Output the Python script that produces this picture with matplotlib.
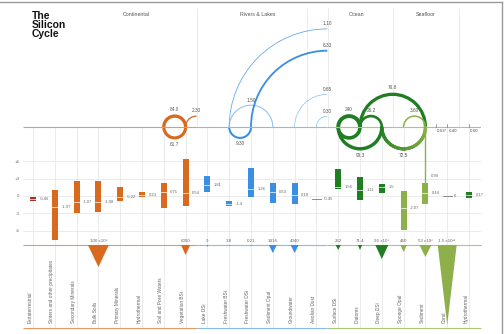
import numpy as np
import matplotlib
matplotlib.use("Agg")
import matplotlib.pyplot as plt
from matplotlib.patches import Arc, Polygon, Rectangle
from matplotlib.collections import LineCollection
from matplotlib.lines import Line2D
from matplotlib.colors import to_rgb

plt.rcParams['font.family'] = ['Liberation Sans', 'DejaVu Sans']

# ---------------- data ----------------
categories = ["Extraterrestrial", "Sinters and other precipitates", "Secondary Minerals",
              "Bulk Soils", "Primary Minerals", "Hydrothermal", "Soil and Pore Waters",
              "Vegetation BSi", "Lake DSi", "Freshwater BSi", "Freshwater DSi",
              "Sediment Opal", "Groundwater", "Aeolian Dust", "Surface DSi", "Diatoms",
              "Deep DSi", "Sponge Opal", "Sediment", "Coral", "Hydrothermal"]
category_group = ["ext", "cont", "cont", "cont", "cont", "cont", "cont", "cont",
                  "riv", "riv", "riv", "riv", "riv", "riv",
                  "ocean", "ocean", "ocean", "sea", "sea", "sea", "ocean"]

# delta-30Si ranges (per mil)
d30_low = [-0.80, -7.5, -3.0, -2.7, -0.85, -0.12, -2.0, -1.66, 0.63, -1.77, -0.10,
           -1.26, -1.43, -0.45, 1.15, -0.69, 0.57, -5.8, -1.43, 0.0, -0.29]
d30_high = [-0.12, 1.0, 2.6, 2.6, 1.5, 0.74, 2.3, 6.3, 3.43, -0.86, 4.85,
            2.28, 2.17, -0.45, 4.57, 3.2, 2.06, 0.9, 2.28, 0.0, 0.74]
d30_median = [-0.46, -1.97, -1.07, -1.08, -0.22, 0.23, 0.75, 0.54, 1.81, -1.4, 1.26,
              0.63, 0.19, -0.45, 1.56, 1.11, 1.5, -2.07, 0.44, 0.0, 0.17]
d30_labels = ["-0.46", "-1.97", "-1.07", "-1.08", "-0.22", "0.23", "0.75", "0.54", "1.81",
              "-1.4", "1.26", "0.63", "0.19", "-0.45", "1.56", "1.11", "1.5", "-2.07",
              "0.44", "0", "0.17"]
yticks_vals = [6, 3, 0, -3, -6]
yticks_text = ["+6", "+3", "0", "-3", "-6"]

# reservoirs (triangles)
reservoir_idx = [3, 7, 8, 9, 10, 11, 12, 14, 15, 16, 17, 18, 19]
reservoir_labels = ["100 x10\u2076", "6050", "9", "3.8", "0.21", "1416", "4040", "262",
                    "71.4", "96 x10\u00b3", "460", "53 x10\u00b3", "1.5 x10\u00b2\u00b9"]
reservoir_width = [0.96, 0.42, 0.07, 0.05, 0.05, 0.37, 0.37, 0.24, 0.19, 0.60, 0.30, 0.55, 0.87]
reservoir_depth = [22, 10, 2, 1.5, 1.5, 8, 8, 5, 5, 14, 7, 12, 80]

# fluxes (Tmol/yr); dst 7.5 / 13.5 = region boundaries
flux_src = [6, 7, 7, 10, 9, 9, 10, 12, 13, 14, 15, 15, 14, 15, 16, 17]
flux_dst = [7, 6, 7.5, 9, 11, 13.5, 13.5, 13.5, 13.5, 15, 14, 16, 16, 18, 18, 18]
flux_value = [84.0, 61.7, 2.30, 9.30, 1.50, 1.10, 6.33, 0.65, 0.30, 240, 140, 26.2, 99.3,
              76.8, 72.5, 3.60]
flux_labels = ["84.0", "61.7", "2.30", "9.30", "1.50", "1.10", "6.33", "0.65", "0.30",
               "240", "", "26.2", "99.3", "76.8", "72.5", "3.60"]
flux_side = ["up", "down", "edge", "down", "up", "edge", "edge", "edge", "edge",
             "up", "down", "up", "down", "up", "down", "up"]

small_flux_pos = [18.5, 19, 20]
small_flux_labels = ["0.63*", "0.40", "0.60"]
burial_idx = 18
burial_label = "0.90"

regions = ["Continental", "Rivers & Lakes", "Ocean", "Seafloor"]

# ---------------- styles ----------------
ORANGE = "#d8691f"
RED = "#a8322b"
BLUE = "#3b8fe3"
LBLUE = "#8cc0f0"
DGREEN = "#1f7d22"
OLIVE = "#8db04a"
GRID = "#e8e8e8"
TXT = "#666666"
group_color = {"ext": RED, "cont": ORANGE, "riv": BLUE, "ocean": DGREEN, "sea": OLIVE}
flux_colors = [ORANGE, ORANGE, ORANGE, BLUE, LBLUE, "#6aaaf0", BLUE, LBLUE, LBLUE,
               DGREEN, DGREEN, DGREEN, DGREEN, DGREEN, "grad", OLIVE]

W, H = 504, 334
PXU = 21.8  # px per category unit


def rect(l, t, r, b):
    return [l / W, 1 - b / H, (r - l) / W, (b - t) / H]


XL = (-0.459, 20.55)
seg_bounds = [(XL[0], 7.5, "#e39a66"), (7.5, 13.5, "#86bcef"), (13.5, XL[1], "#a9c977")]

fig = plt.figure(figsize=(W / 100, H / 100), dpi=100)
fig.patch.set_facecolor("white")

# ---------------- box panel ----------------
axb = fig.add_axes(rect(23, 127, 481, 245))
axb.set_xlim(*XL)
axb.set_ylim(-(245 - 196) / 5.833, (196 - 127) / 5.833)
axb.patch.set_alpha(0)
for s in axb.spines.values():
    s.set_visible(False)
axb.set_xticks(range(len(categories)))
axb.set_xticklabels([])
axb.set_yticks(yticks_vals)
axb.set_yticklabels(yticks_text, fontsize=3.2, color=TXT)
axb.tick_params(length=0, pad=2.5)
axb.grid(True, color=GRID, lw=0.6)
axb.set_axisbelow(True)
bw = 0.28
for i, (lo, hi, med, lab) in enumerate(zip(d30_low, d30_high, d30_median, d30_labels)):
    c = group_color[category_group[i]]
    if hi - lo < 0.01:
        axb.plot([i - 0.2, i + 0.2], [med, med], color="#777777", lw=0.6)
        axb.text(i + 0.32, med, lab, fontsize=3, color=TXT, va="center", ha="left")
        continue
    axb.add_patch(Rectangle((i - bw / 2, lo), bw, hi - lo, facecolor=c, edgecolor="none"))
    axb.plot([i - bw / 2, i + bw / 2], [med, med], color="white", lw=0.5)
    axb.text(i + 0.3, med, lab, fontsize=3, color=TXT, va="center", ha="left")
# burial line from sediment box up to baseline
axb.plot([burial_idx, burial_idx], [d30_high[burial_idx], axb.get_ylim()[1]], color=OLIVE, lw=1.0)
axb.text(burial_idx + 0.25, 3.4, burial_label, fontsize=3, color=TXT, va="center", ha="left")

# ---------------- triangle panel ----------------
axt = fig.add_axes(rect(23, 245, 481, 328))
axt.set_xlim(*XL)
axt.set_ylim(83, 0)
axt.patch.set_alpha(0)
for s in axt.spines.values():
    s.set_visible(False)
axt.set_xticks(range(len(categories)))
axt.set_xticklabels([])
axt.set_yticks([])
axt.tick_params(length=0)
axt.grid(True, axis="x", color=GRID, lw=0.6)
axt.set_axisbelow(True)
for a, b, c in seg_bounds:
    axt.plot([a, b], [0, 0], color=c, lw=0.8, clip_on=False, solid_capstyle="butt")
    axt.plot([a, b], [82.6, 82.6], color=c, lw=0.8, clip_on=False, solid_capstyle="butt")
for i, lab, w, d in zip(reservoir_idx, reservoir_labels, reservoir_width, reservoir_depth):
    c = group_color[category_group[i]]
    axt.add_patch(Polygon([(i - w / 2, 0), (i + w / 2, 0), (i, d)], closed=True,
                          facecolor=c, edgecolor="none", zorder=3))
    axt.text(i, -2.5, lab, fontsize=3.2, color=TXT, ha="center", va="bottom", clip_on=False)
for i, name in enumerate(categories):
    axt.text(i - 0.14, 78, name, rotation=90, fontsize=3.4, color=TXT,
             ha="center", va="bottom")

# ---------------- flux (arc) panel ----------------
axa = fig.add_axes(rect(23, 0, 481, 170))
axa.set_xlim(*XL)
axa.set_ylim(-(170 - 127) / PXU, 127 / PXU)
axa.patch.set_alpha(0)
axa.axis("off")
for a, b, c in seg_bounds:
    axa.plot([a, b], [0, 0], color=c, lw=0.8, solid_capstyle="butt")
# header separators
for xb in [7.52, 12.56, 13.52, 16.5, 19.55]:
    axa.plot([xb, xb], [0, (127 - 8) / PXU], color=GRID, lw=0.6, zorder=0)
for name, xr in zip(regions, [4.75, 10.3, 14.85, 18.0]):
    axa.text(xr, (127 - 15) / PXU, name, fontsize=3.8, color="#555555", ha="center", va="center")


def lw_px(v):
    return max(0.7, 0.8 + 1.3 * np.log10(v))


for s, d, v, lab, side, col in zip(flux_src, flux_dst, flux_value, flux_labels, flux_side, flux_colors):
    lwp = lw_px(v)
    lw = lwp * 0.72
    off = 0.1 + lwp / 2 / PXU
    if side == "edge":
        r = d - s
        axa.add_patch(Arc((d, 0), 2 * r, 2 * r, theta1=90, theta2=180, color=col, lw=lw))
        lx, ly, va = d, r + off, "bottom"
    else:
        cx = (s + d) / 2
        r = abs(d - s) / 2
        if col == "grad":
            th = np.linspace(np.pi, 2 * np.pi, 80)
            xs = cx + r * np.cos(th)
            ys = r * np.sin(th)
            pts = np.column_stack([xs, ys]).reshape(-1, 1, 2)
            segs = np.concatenate([pts[:-1], pts[1:]], axis=1)
            c0, c1 = np.array(to_rgb(DGREEN)), np.array(to_rgb(OLIVE))
            t = np.linspace(0, 1, len(segs))[:, None]
            lc = LineCollection(segs, colors=c0 * (1 - t) + c1 * t, linewidths=lw, capstyle="round")
            axa.add_collection(lc)
        else:
            t1, t2 = (0, 180) if side == "up" else (180, 360)
            axa.add_patch(Arc((cx, 0), 2 * r, 2 * r, theta1=t1, theta2=t2, color=col, lw=lw))
        if side == "up":
            lx, ly, va = cx, r + off, "bottom"
        else:
            lx, ly, va = cx, -(r + off), "top"
    if lab:
        axa.text(lx, ly, lab, fontsize=3.4, color="#555555", ha="center", va=va)

for p, lab in zip(small_flux_pos, small_flux_labels):
    axa.plot([p, p], [0, 0.13], color="#777777", lw=0.5)
    axa.text(p + 0.25, -0.1, lab, fontsize=3.2, color="#555555", ha="center", va="top")

# ---------------- title & frame ----------------
fig.text(32 / W, 1 - 11 / H, "The\nSilicon\nCycle", fontsize=7.5, fontweight="bold",
         color="#111111", ha="left", va="top", linespacing=0.9)
fig.add_artist(Line2D([0, 502 / W], [1 - 2 / H, 1 - 2 / H], color="#9a9a9a", lw=1.0,
                      transform=fig.transFigure))
fig.add_artist(Line2D([502 / W, 502 / W], [0, 1 - 2 / H], color="#9a9a9a", lw=1.0,
                      transform=fig.transFigure))

fig.savefig("out.png", dpi=100, facecolor="white")
